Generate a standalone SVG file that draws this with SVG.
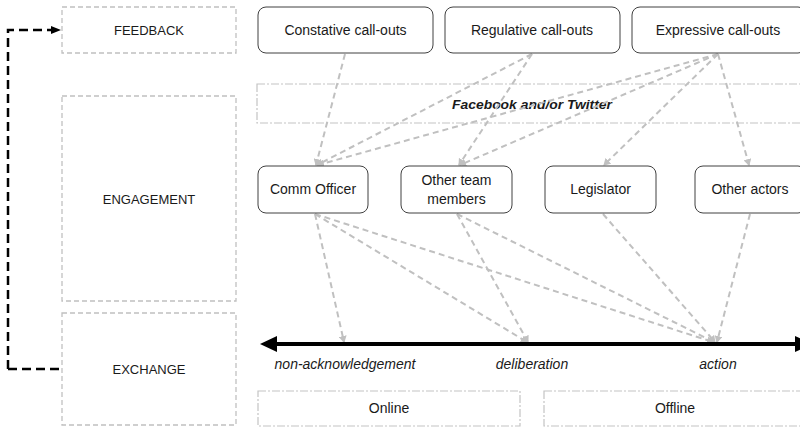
<svg xmlns="http://www.w3.org/2000/svg" width="800" height="428" viewBox="0 0 800 428">
<defs>
<style>
text{font-family:"Liberation Sans",Arial,sans-serif;fill:#1a1a1a;text-anchor:middle}
.lvl{fill:none;stroke:#c0c0c0;stroke-width:1.3;stroke-dasharray:5 3}
.ctx{fill:none;stroke:#c4c4c4;stroke-width:1.2;stroke-dasharray:8 2 2 2}
.node{fill:#fff;stroke:#404040;stroke-width:1}
.con{fill:none;stroke:#c0c0c0;stroke-width:2;stroke-dasharray:6 4;marker-end:url(#ga)}
.t14{font-size:14px}
.t13{font-size:13px}
.it{font-style:italic;font-size:14px}
</style>
<marker id="ga" markerWidth="8" markerHeight="8" refX="6" refY="4" orient="auto" markerUnits="userSpaceOnUse">
<path d="M0,0 L7,4 L0,8 Z" fill="#c0c0c0"/>
</marker>
<marker id="ba" markerWidth="10" markerHeight="10" refX="9" refY="5" orient="auto" markerUnits="userSpaceOnUse">
<path d="M0,1 L10,5 L0,9 Z" fill="#000"/>
</marker>
</defs>

<g id="feedback">
<rect class="lvl" x="62" y="7" width="174" height="46"/>
<text class="t13" x="149" y="35">FEEDBACK</text>
</g>
<g id="engagement">
<rect class="lvl" x="62" y="96" width="174" height="205"/>
<text class="t13" x="149" y="204">ENGAGEMENT</text>
</g>
<g id="exchange">
<rect class="lvl" x="62" y="313" width="174" height="112"/>
<text class="t13" x="149" y="374">EXCHANGE</text>
</g>

<g id="facebook-twitter">
<rect class="ctx" x="257" y="84" width="560" height="39"/>
<text x="532" y="109" style="font-size:13.5px;font-weight:bold;font-style:italic" textLength="160" lengthAdjust="spacingAndGlyphs">Facebook and/or Twitter</text>
</g>
<g id="online">
<rect class="ctx" x="258" y="391" width="262" height="35"/>
<text class="t14" x="389" y="413">Online</text>
</g>
<g id="offline">
<rect class="ctx" x="544" y="391" width="270" height="35"/>
<text class="t14" x="675" y="413">Offline</text>
</g>

<g id="connectors">
<path class="con" d="M345,54 L316,165"/>
<path class="con" d="M532,54 L317,165"/>
<path class="con" d="M532,54 L459,165"/>
<path class="con" d="M718,54 L318,165"/>
<path class="con" d="M718,54 L460,165"/>
<path class="con" d="M718,54 L604,165"/>
<path class="con" d="M718,54 L749,165"/>
<path class="con" d="M315,214 L344,342"/>
<path class="con" d="M315,214 L527,342"/>
<path class="con" d="M315,214 L713,342"/>
<path class="con" d="M457,214 L528,342"/>
<path class="con" d="M457,214 L714,342"/>
<path class="con" d="M603,214 L715,342"/>
<path class="con" d="M750,214 L717,342"/>
<path d="M8,369 L8,30 L60,30" fill="none" stroke="#000" stroke-width="2.5" stroke-dasharray="9 5" marker-end="url(#ba)"/>
<path d="M8,369 L62,369" fill="none" stroke="#000" stroke-width="2.5" stroke-dasharray="9 5"/>
</g>

<g id="axis">
<line x1="275" y1="344" x2="795" y2="344" stroke="#000" stroke-width="4"/>
<path d="M260,344 L277,336 L277,352 Z" fill="#000"/>
<path d="M812,344 L795,336 L795,352 Z" fill="#000"/>
<text class="it" x="345" y="369">non-acknowledgement</text>
<text class="it" x="532" y="369">deliberation</text>
<text class="it" x="718" y="369">action</text>
</g>

<g id="constative">
<rect class="node" x="258" y="7" width="175" height="46" rx="8"/>
<text class="t14" x="345.5" y="35">Constative call-outs</text>
</g>
<g id="regulative">
<rect class="node" x="445" y="7" width="175" height="46" rx="8"/>
<text class="t14" x="532" y="35">Regulative call-outs</text>
</g>
<g id="expressive">
<rect class="node" x="632" y="7" width="174" height="46" rx="8"/>
<text class="t14" x="718" y="35">Expressive call-outs</text>
</g>

<g id="comm-officer">
<rect class="node" x="258" y="166" width="110" height="47" rx="8"/>
<text class="t14" x="313" y="194">Comm Officer</text>
</g>
<g id="other-team">
<rect class="node" x="401" y="166" width="111" height="47" rx="8"/>
<text class="t14" x="456.5" y="185">Other team</text>
<text class="t14" x="456.5" y="204">members</text>
</g>
<g id="legislator">
<rect class="node" x="545" y="166" width="111" height="47" rx="8"/>
<text class="t14" x="600.5" y="194">Legislator</text>
</g>
<g id="other-actors">
<rect class="node" x="695" y="166" width="111" height="47" rx="8"/>
<text class="t14" x="750" y="194">Other actors</text>
</g>
</svg>
